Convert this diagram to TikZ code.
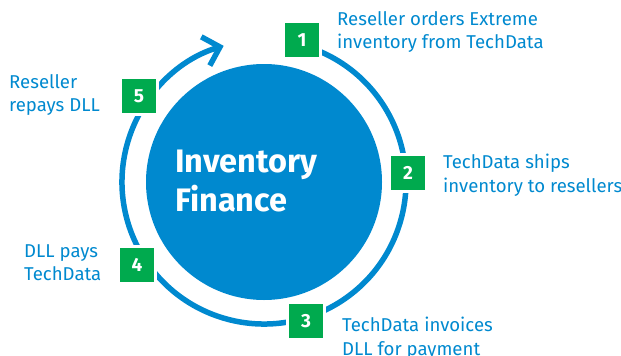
\documentclass[tikz,border=0pt]{standalone}
\usepackage{fontspec}
\setmainfont{Fira Sans}
\usetikzlibrary{arrows.meta}
\definecolor{dllblue}{RGB}{0,137,207}
\definecolor{dllgreen}{RGB}{0,170,78}
\tikzset{
  numbox/.style={fill=dllgreen, minimum size=34pt, inner sep=0pt,
    preaction={draw=white, line width=6pt},
    text=white, font=\fontsize{19}{19}\selectfont\bfseries},
  steptext/.style={text=dllblue, align=left, anchor=north west, inner sep=0pt,
    font=\fontsize{18.6}{23.5}\selectfont},
  ring/.style={draw=dllblue, line width=5.5pt,
    -{Straight Barb[length=15pt,width=30pt]}}
}
\begin{document}
\begin{tikzpicture}[x=1pt,y=-1pt]
\useasboundingbox (0,0) rectangle (621,356);
\coordinate (c) at (264,182);
\node[circle, fill=dllblue, minimum size=236pt, inner sep=0pt] (hub) at (c) {};
\draw[ring] (c) ++(75:142pt) arc[start angle=75, end angle=-253.5, radius=142pt];
\node[text=white, align=left, anchor=north west, inner sep=0pt,
  font=\fontsize{32.5}{39}\selectfont\bfseries] (title) at (175,150) {Inventory\\Finance};
\node[numbox] (b1) at (302,40) {1};
\node[numbox] (b2) at (408,173) {2};
\node[numbox] (b3) at (306,321) {3};
\node[numbox] (b4) at (137,265) {4};
\node[numbox] (b5) at (139,96) {5};
\node[steptext] (t1) at (337,11) {Reseller orders Extreme\\inventory from TechData};
\node[steptext] (t2) at (443,154) {TechData ships\\inventory to resellers};
\node[steptext] (t3) at (342,317) {TechData invoices\\DLL for payment};
\node[steptext] (t4) at (24,244) {DLL pays\\TechData};
\node[steptext] (t5) at (9,74) {Reseller\\repays DLL};
\end{tikzpicture}
\end{document}
